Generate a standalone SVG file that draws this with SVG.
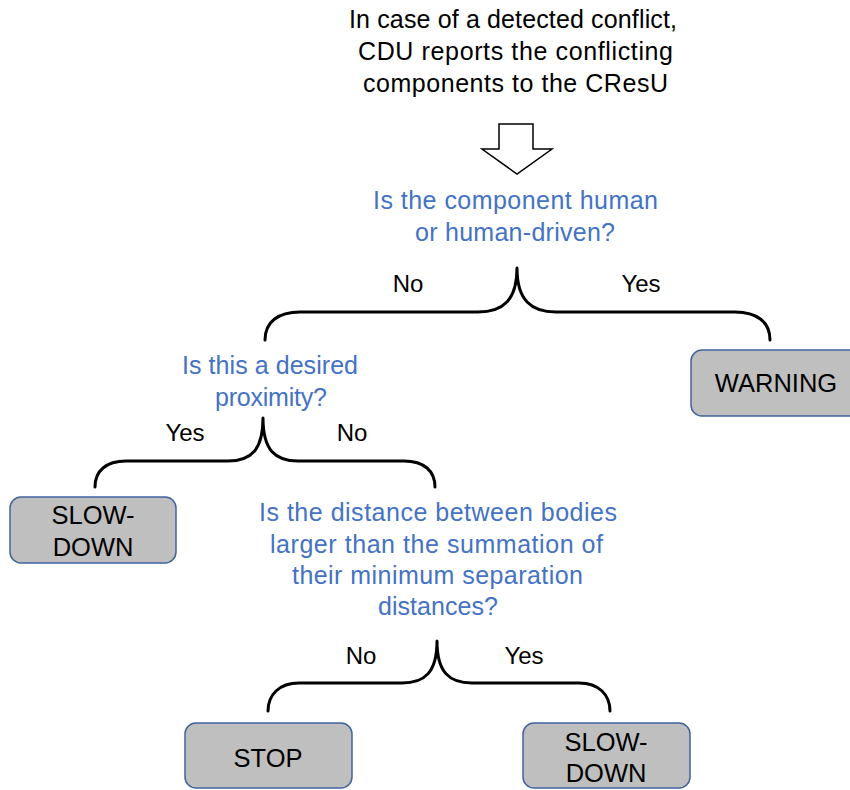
<svg xmlns="http://www.w3.org/2000/svg" width="850" height="790" viewBox="0 0 850 790">
  <style>
    text { font-family: "Liberation Sans", Arial, sans-serif; font-size: 25px; }
    .black { fill: #000000; }
    .q { fill: #4472C4; }
    .lbl { fill: #000000; text-anchor: middle; font-size: 24px; }
    .boxtxt { fill: #000000; text-anchor: middle; font-size: 25.5px; }
    .box { fill: #BFBFBF; stroke: #41639E; stroke-width: 1.5; }
    .brace { fill: none; stroke: #000000; stroke-width: 3; stroke-linecap: round; stroke-linejoin: round; }
    .arrow { fill: #FFFFFF; stroke: #000000; stroke-width: 1.5; stroke-linejoin: miter; }
  </style>

  <!-- intro statement -->
  <g id="intro">
    <text class="black" x="349" y="28" textLength="328" lengthAdjust="spacing">In case of a detected conflict,</text>
    <text class="black" x="358" y="60" textLength="315" lengthAdjust="spacing">CDU reports the conflicting</text>
    <text class="black" x="363" y="92" textLength="305" lengthAdjust="spacing">components to the CResU</text>
  </g>

  <!-- question: human component -->
  <g id="q-human">
    <text class="q" x="373" y="209" textLength="285" lengthAdjust="spacing">Is the component human</text>
    <text class="q" x="415" y="241" textLength="200" lengthAdjust="spacing">or human-driven?</text>
  </g>

  <!-- question: desired proximity -->
  <g id="q-proximity">
    <text class="q" x="182" y="374" textLength="176" lengthAdjust="spacing">Is this a desired</text>
    <text class="q" x="215" y="406" textLength="112" lengthAdjust="spacing">proximity?</text>
  </g>

  <!-- question: separation distance -->
  <g id="q-distance">
    <text class="q" x="259" y="521" textLength="358" lengthAdjust="spacing">Is the distance between bodies</text>
    <text class="q" x="270" y="553" textLength="333" lengthAdjust="spacing">larger than the summation of</text>
    <text class="q" x="292" y="584" textLength="291" lengthAdjust="spacing">their minimum separation</text>
    <text class="q" x="378" y="615" textLength="120" lengthAdjust="spacing">distances?</text>
  </g>

  <!-- outcome boxes -->
  <g id="warning">
    <rect class="box" x="691" y="350" width="170" height="66" rx="11"/>
    <text class="boxtxt" x="776" y="392">WARNING</text>
  </g>
  <g id="slowdown-left">
    <rect class="box" x="10" y="497" width="166" height="66" rx="11"/>
    <text class="boxtxt" x="93" y="524">SLOW-</text>
    <text class="boxtxt" x="93" y="556">DOWN</text>
  </g>
  <g id="stop">
    <rect class="box" x="185" y="723" width="167" height="65" rx="11"/>
    <text class="boxtxt" x="268" y="767">STOP</text>
  </g>
  <g id="slowdown-right">
    <rect class="box" x="523" y="723" width="167" height="65" rx="11"/>
    <text class="boxtxt" x="606" y="751">SLOW-</text>
    <text class="boxtxt" x="606" y="782">DOWN</text>
  </g>

  <!-- connectors: block arrow, braces and branch labels -->
  <g id="connectors">
    <polygon class="arrow" points="499,124 533,124 533,149 552,149 517,174 482,149 499,149"/>

    <path class="brace" d="M265,340 C265,322 278,312 300,312 L478,312 C503,312 517,300 517,268 C517,300 531,312 556,312 L735,312 C757,312 770,322 770,340"/>
    <text class="lbl" x="408" y="292">No</text>
    <text class="lbl" x="641" y="292">Yes</text>

    <path class="brace" d="M95,487 C95,471 106,461 126,461 L228,461 C251,461 263,450 263,418 C263,450 275,461 298,461 L404,461 C424,461 435,471 435,487"/>
    <text class="lbl" x="185" y="441">Yes</text>
    <text class="lbl" x="352" y="441">No</text>

    <path class="brace" d="M268,711 C268,695 279,683 299,683 L402,683 C425,683 437,672 437,641 C437,672 449,683 472,683 L579,683 C599,683 610,695 610,711"/>
    <text class="lbl" x="361" y="664">No</text>
    <text class="lbl" x="524" y="664">Yes</text>
  </g>
</svg>
